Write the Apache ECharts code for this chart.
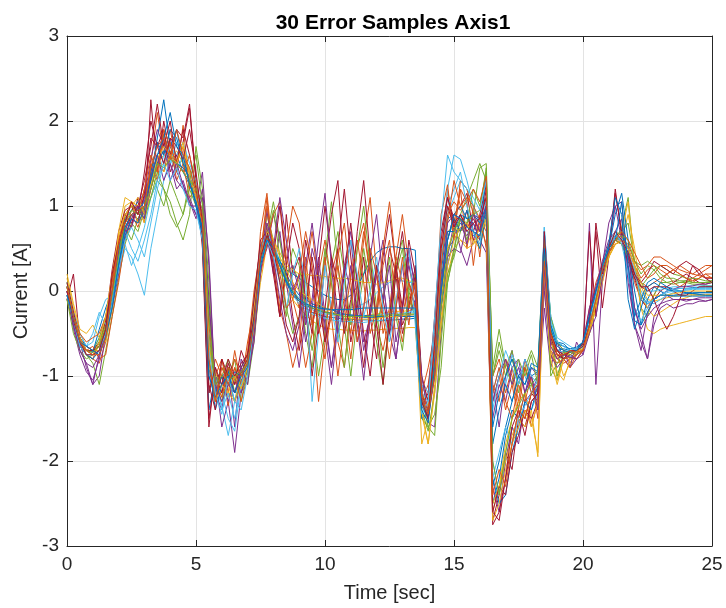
<!DOCTYPE html>
<html>
<head>
<meta charset="utf-8">
<script src="https://cdn.jsdelivr.net/npm/echarts@6/dist/echarts.min.js"></script>
<style>
  html, body { margin: 0; padding: 0; background: #fff; }
  #chart { width: 726px; height: 608px; }
</style>
</head>
<body>
<div id="chart"></div>
<script>
// Sample times [sec]
const timeSec = [0,0.25,0.5,0.75,1,1.25,1.5,1.75,2,2.25,2.5,2.75,3,3.25,3.5,3.75,4,4.25,4.5,4.75,5,5.25,5.5,5.75,6,6.25,6.5,6.75,7,7.25,7.5,7.75,8,8.25,8.5,8.75,9,9.25,9.5,9.75,10,10.25,10.5,10.75,11,11.25,11.5,11.75,12,12.25,12.5,12.75,13,13.25,13.5,13.75,14,14.25,14.5,14.75,15,15.25,15.5,15.75,16,16.25,16.5,16.75,17,17.25,17.5,17.75,18,18.25,18.5,18.75,19,19.25,19.5,19.75,20,20.25,20.5,20.75,21,21.25,21.5,21.75,22,22.25,22.5,22.75,23,23.25,23.5,23.75,24,24.25,24.5,24.75,25];

// Current error samples [A], one array per run
const s01 = [0.05,-0.3,-0.6,-0.7,-0.72,-0.6,-0.4, -0.05,0.4,0.75,0.9,0.85,1.0, 1.35,1.6,1.7,1.55,1.6,1.4,1.25,1.1,0.75, -0.6,-1.1,-1.0,-0.95,-1.05,-0.9,-0.75, -0.3,0.3,0.6,0.5,0.3,0.12,-0.02, -0.12,-0.2,-0.25,-0.28,-0.3,-0.31,-0.32,-0.33,-0.33,-0.34,-0.34,-0.34,-0.35,-0.35,-0.34,-0.34,-0.33,-0.33,-0.32, -1.25,-1.35,-0.8,-0.2,0.3, 0.65,0.8,0.7,0.65,0.75,0.95, -2.3,-2.0,-1.6,-1.3,-1.0,-0.9,-1.1,-1.0, 0.35,-0.5,-0.7,-0.75,-0.78,-0.72,-0.65, -0.4,-0.1,0.2,0.45,0.6,0.62,0.45,0.2,-0.05,-0.15,-0.1,-0.05, 0.0,0.02,0.03,0.03,0.04,0.04,0.05,0.05];
const s02 = [-0.1,-0.4,-0.65,-0.75,-0.8,-0.85,-0.6, -0.2,0.3,0.7,0.95,1.0,0.8, 1.5,2.1,1.6,1.9,1.5,1.7,1.2,1.3,0.6, -0.9,-1.3,-0.8,-1.2,-0.7,-1.1,-0.6, -0.2,0.4,1.1,0.3,-0.3,0.2,-0.1, -0.4,-0.9,-0.5,0.2,0.6,0.1,-0.6,-0.9,-0.2,0.5,0.8,0.2,-0.4,-0.7,-0.3,0.4,0.9,0.3,-0.1, -1.3,-1.1,-0.5,0.4,1.2, 0.7,1.2,0.5,1.0,0.4,1.1, -1.0,-0.8,-1.2,-0.9,-1.3,-0.8,-1.1,-1.2, 0.2,-0.6,-0.8,-0.7,-0.85,-0.7,-0.6, -0.3,0.1,0.3,0.5,0.7,0.65,0.4,0.1,-0.1,-0.2,-0.05,0.1, 0.2,0.25,0.2,0.15,0.1,0.15,0.2,0.15];
const s03 = [0.15,-0.2,-0.5,-0.65,-0.7,-0.7,-0.55, -0.2,0.3,0.85,1.05,1.0,0.9, 1.2,1.45,1.5,1.65,1.45,1.55,1.3,1.05,0.7, -0.8,-1.15,-1.0,-1.25,-1.05,-0.95,-0.85, -0.5,0.1,0.55,0.45,0.25,0.05,-0.1, -0.2,-0.28,-0.35,-0.4,-0.43,-0.45,-0.45,-0.46,-0.46,-0.47,-0.47,-0.46,-0.46,-0.45,-0.45,-0.44,-0.44,-0.43,-0.43, -1.45,-1.8,-1.1,-0.3,0.2, 0.5,0.6,0.55,0.7,0.6,0.8, -2.5,-2.3,-1.8,-1.5,-1.3,-1.5,-1.2,-1.05, 0.45,-0.45,-0.75,-1.0,-0.85,-0.7,-0.68, -0.45,-0.15,0.15,0.4,0.55,0.58,0.5,0.3,0.05,-0.1,-0.12,-0.1, -0.08,-0.06,-0.05,-0.05,-0.04,-0.04,-0.04,-0.04];
const s04 = [0.0,-0.35,-0.6,-0.9,-1.1,-1.0,-0.5, -0.1,0.35,0.6,0.85,0.8,1.1, 1.4,1.75,1.5,1.8,1.4,1.25,1.0,1.0,1.4, 0.3,-1.2,-1.4,-0.9,-1.6,-0.8,-1.0, -0.3,0.35,0.65,0.2,0.7,0.1,-0.4, -0.9,-0.3,0.5,0.2,-0.5,-1.1,-0.4,0.3,0.7,0.1,-0.6,-0.3,0.2,0.6,-0.1,-0.8,-0.2,0.4,0.1, -1.15,-1.55,-1.6,-0.5,0.4, 0.8,0.5,0.3,0.6,0.8,0.9, -1.1,-1.6,-1.0,-0.7,-1.1,-0.8,-1.0,-1.3, -0.2,-0.9,-0.6,-0.8,-0.9,-0.6,-0.75, 0.8,-1.1,0.1,0.5,1.0,1.05,0.2,-0.4,-0.6,-0.8,-0.3,-0.15, -0.05,-0.1,-0.1,-0.12,-0.1,-0.1,-0.12,-0.1];
const s05 = [-0.05,-0.4,-0.6,-0.75,-0.85,-1.1,-0.7, -0.3,0.15,0.55,0.8,0.7,0.95, 1.1,1.3,1.2,1.05,0.8,0.6,0.9,1.7,1.2, 0.1,-1.3,-1.0,-0.8,-1.2,-0.95,-1.1, -0.6,0.2,0.9,0.6,0.1,-0.3,0.3, 0.1,-0.5,-0.9,-0.2,0.4,1.05,0.3,-0.4,-1.0,-0.3,0.2,0.5,-0.2,-0.9,-0.4,0.3,0.6,0.0,-0.3, -1.5,-1.6,-1.45,-0.9,0.1, 0.45,0.9,1.1,1.3,1.5,1.3, -0.9,-0.45,-0.9,-0.7,-1.2,-0.9,-1.1,-1.4, 0.5,-0.9,-1.05,-0.7,-0.8,-0.75,-0.7, -0.5,-0.2,0.3,0.55,0.6,0.75,1.1,0.3,-0.2,-0.3,-0.05,0.1, 0.1,0.12,0.1,0.1,0.08,0.08,0.06,0.06];
const s06 = [0.1,-0.25,-0.55,-0.7,-0.7,-0.55,-0.35, -0.1,0.2,0.5,0.4,0.2,-0.05, 0.5,0.9,1.3,1.55,1.4,1.6,1.45,1.2,0.9, -0.5,-1.0,-1.35,-1.7,-1.3,-0.9,-0.8, -0.2,0.35,0.65,0.55,0.35,0.15,0.0, -0.08,-0.14,-0.18,-0.2,-0.22,-0.22,-0.22,-0.21,-0.2,-0.18,-0.15,-0.1,-0.02,0.05,0.1,0.12,0.12,0.1,0.1, -1.05,-1.2,-0.6,0.3,1.2, 1.6,1.55,1.3,1.0,0.8,1.35, -2.0,-2.4,-2.0,-1.6,-1.7,-1.3,-1.4,-1.2, 0.7,-0.3,-0.6,-0.65,-0.7,-0.7,-0.62, -0.35,-0.05,0.25,0.5,0.62,0.6,0.4,0.2,0.0,-0.12,-0.15,-0.1, -0.05,-0.02,0.0,0.02,0.03,0.04,0.04,0.04];
const s07 = [-0.1,0.2,-0.6,-0.7,-0.75,-0.7,-0.4, 0.2,0.6,0.85,0.75,1.1,0.9, 2.25,1.4,2.0,1.6,1.9,1.8,2.2,1.3,0.5, -1.6,-0.9,-1.2,-0.9,-1.1,-0.7,-0.9, -0.4,0.5,0.7,0.3,-0.3,0.9,0.2, 0.4,-0.2,-1.0,-0.4,0.3,0.9,1.3,0.2,-0.6,-0.2,0.4,-0.3,-0.8,-0.1,0.5,0.2,-0.5,-0.2,0.3, -1.2,-1.4,-0.9,-0.1,0.6, 0.9,1.0,1.15,0.7,0.9,1.25, -2.7,-2.4,-1.9,-2.1,-1.5,-1.6,-1.3,-1.2, 0.6,-0.6,-0.75,-0.8,-0.7,-0.75,-0.6, -0.3,0.7,-0.2,0.4,1.2,0.65,0.4,0.15,-0.1,-0.2,-0.1,0.0, 0.05,0.1,0.15,0.2,0.15,0.1,0.08,0.1];
const s08 = [0.0,-0.3,-0.55,-0.65,-0.7,-0.65,-0.4, -0.1,0.45,0.85,0.95,1.05,1.15, 1.3,1.8,2.25,1.7,1.9,1.5,1.4,1.0,0.6, -1.4,-1.0,-1.1,-0.95,-1.2,-1.0,-0.8, -0.1,0.55,0.65,0.5,0.35,0.25,0.2, 0.15,0.1,0.05,0.0,-0.05,-0.08,-0.1,-0.1,-0.05,0.05,0.2,0.35,0.45,0.5,0.52,0.52,0.5,0.5,0.48, -1.3,-1.4,-0.7,0.2,0.85, 0.9,1.0,0.85,0.8,0.6,1.4, -2.5,-2.2,-1.7,-1.4,-1.5,-1.2,-1.0,-0.95, 0.3,-0.4,-0.6,-0.62,-0.7,-0.68,-0.6, -0.35,0.0,0.25,0.5,0.65,0.7,0.5,0.0,-0.4,-0.1,0.05,0.0, -0.05,-0.05,-0.04,-0.03,-0.03,-0.02,-0.02,-0.02];
const s09 = [0.05,-0.25,-0.55,-0.75,-0.8,-0.6,-0.35, 0.0,0.5,0.8,1.05,0.9,1.2, 1.3,1.6,1.4,1.75,1.3,1.5,1.1,1.2,0.8, -0.3,-1.0,-0.8,-1.1,-0.9,-1.2,-0.9, -0.4,0.7,1.15,0.4,-0.2,-0.5,-0.9, -0.6,0.2,0.7,0.1,-0.6,-0.3,0.3,-0.2,-0.8,-0.1,0.6,1.1,0.2,-0.5,-0.2,0.4,0.1,-0.4,0.2, -1.1,-1.3,-0.5,0.3,1.0, 0.8,1.2,1.05,0.3,0.9,0.5, -1.3,-1.0,-1.4,-1.1,-1.5,-1.2,-1.6,-1.3, 0.1,-0.7,-0.8,-0.85,-0.8,-0.75,-0.7, -0.45,-0.1,0.25,0.5,0.6,0.55,0.45,0.25,0.1,0.05,0.1,0.15, 0.2,0.25,0.3,0.25,0.2,0.25,0.3,0.3];
const s10 = [0.0,-0.3,-0.6,-0.7,-0.75,-0.65,-0.4, 0.0,0.55,1.0,1.05,1.0,0.8, 1.2,1.5,1.6,1.55,1.65,1.5,1.3,1.15,0.8, -0.7,-0.95,-1.2,-1.1,-1.3,-1.1,-0.9, -0.35,0.45,0.9,0.55,0.3,0.1,-0.05, -0.12,-0.17,-0.2,-0.22,-0.24,-0.26,-0.28,-0.3,-0.3,-0.3,-0.29,-0.28,-0.27,-0.26,-0.25,-0.24,-0.24,-0.23,-0.22, -1.8,-1.5,-0.6,0.1,0.7, 0.75,0.7,0.8,0.6,0.5,0.9, -2.6,-2.3,-1.9,-1.5,-1.3,-1.2,-1.5,-1.9, 0.4,-0.5,-1.05,-0.8,-0.72,-0.7,-0.65, -0.4,-0.1,0.15,0.4,0.55,0.6,0.9,0.5,-0.05,-0.2,-0.3,-0.25, -0.2,-0.15,-0.1,-0.08,-0.05,-0.05,-0.05,-0.05];
const s11 = [0.05,-0.4,-0.7,-0.85,-1.1,-0.75,-0.5, -0.2,0.2,0.7,0.9,0.95,1.1, 1.55,1.9,1.7,1.5,1.3,1.2,1.1,0.9,1.0, -0.2,-1.0,-1.6,-1.3,-1.9,-1.2,-1.0, -0.6,0.3,0.5,0.9,0.6,0.2,0.3, 0.0,-0.6,-0.2,0.4,-0.3,-0.9,-0.4,0.2,0.6,-0.1,-0.7,-0.3,0.3,0.1,-0.5,-0.8,-0.2,0.3,0.0, -1.3,-1.5,-1.0,-0.2,0.5, 0.6,0.75,0.65,0.8,0.6,0.45, -2.3,-2.6,-2.0,-1.6,-1.8,-1.3,-1.2,-1.0, 0.0,-0.8,-0.6,-0.7,-0.9,-0.8,-0.7, -0.3,0.0,0.3,0.8,1.0,0.6,0.3,-0.2,-0.5,-0.8,-0.4,-0.2, -0.15,-0.2,-0.18,-0.15,-0.15,-0.12,-0.12,-0.1];
const s12 = [0.1,-0.3,-0.6,-0.7,-0.7,-0.55,-0.3, 0.1,0.5,0.75,0.6,0.85,1.0, 1.4,1.2,1.0,1.3,1.1,0.9,1.2,1.0,1.0, -0.5,-1.1,-0.9,-1.0,-0.8,-1.3,-0.9, -0.5,0.3,0.6,0.95,0.4,-0.2,-0.5, -0.3,0.2,-0.4,-1.0,-0.5,0.3,0.7,0.2,-0.4,-0.1,0.5,0.0,-0.6,-1.1,-0.4,0.2,0.5,-0.1,-0.3, -1.4,-1.65,-1.2,-0.4,0.1, 0.5,0.85,0.6,0.9,1.45,1.5, -1.0,-0.7,-1.0,-0.8,-1.1,-0.9,-0.7,-0.9, 0.65,-0.4,-1.0,-0.75,-0.7,-0.75,-0.68, -0.4,-0.1,0.2,0.5,0.65,0.7,0.8,0.35,0.2,0.3,0.25,0.15, 0.1,0.08,0.1,0.12,0.1,0.1,0.1,0.12];
const s13 = [0.0,-0.25,-0.5,-0.65,-0.6,-0.3,-0.1, -0.05,0.4,0.55,0.3,0.5,0.75, 1.1,1.3,1.6,1.5,1.75,1.55,1.4,1.2,0.9, -0.9,-1.1,-1.2,-1.5,-1.65,-1.1,-0.9, -0.3,0.3,0.7,0.55,0.35,0.15,0.0, -0.1,-0.18,-0.22,-0.25,-0.27,-0.28,-0.29,-0.3,-0.3,-0.3,-0.3,-0.29,-0.28,-0.27,-0.27,-0.26,-0.26,-0.25,-0.25, -1.1,-1.3,-0.8,0.35,0.9, 1.1,1.3,1.2,1.0,0.8,1.0, -1.2,-0.9,-1.1,-0.75,-0.9,-1.0,-1.2,-1.1, 0.75,-0.4,-0.7,-0.72,-0.7,-0.7,-0.66, -0.4,-0.1,0.2,0.45,0.6,0.62,0.5,0.3,0.1,0.0,0.0,0.02, 0.03,0.05,0.05,0.06,0.06,0.06,0.06,0.06];
const s14 = [-0.1,-0.3,-0.6,-0.65,-0.7,-0.6,-0.35, 0.25,0.7,0.95,1.0,0.8,1.15, 1.8,1.7,1.9,1.4,1.6,1.75,2.15,1.3,0.6, -1.5,-1.0,-1.2,-0.85,-1.1,-0.9,-0.75, -0.2,0.5,0.75,0.2,-0.3,0.3,0.8, 0.5,-0.1,-0.5,0.3,1.0,0.4,-0.3,0.2,0.8,0.1,-0.5,-1.0,-0.3,0.4,0.9,0.3,-0.4,-0.2,0.2, -1.0,-1.3,-0.4,0.6,1.1, 0.85,0.7,0.95,0.6,0.65,1.0, -2.75,-2.6,-2.2,-1.8,-1.4,-1.5,-1.2,-1.3, 0.55,-0.55,-0.75,-0.8,-0.75,-0.7,-0.6, -0.2,0.0,0.3,0.5,0.6,0.55,0.35,0.15,0.05,0.0,0.05,0.05, 0.05,0.0,-0.05,-0.05,0.0,0.05,0.05,0.05];
const s15 = [0.05,-0.3,-0.6,-0.7,-0.72,-0.45,-0.2, 0.0,0.45,0.9,1.0,0.95,0.85, 1.4,1.75,1.6,1.9,1.8,1.5,1.3,1.0,0.7, -0.8,-1.4,-1.1,-1.0,-1.3,-1.05,-0.95, -0.4,0.25,0.6,0.5,0.35,0.2,0.05, -0.05,-0.1,-0.15,-0.18,-0.2,-0.22,-0.25,-0.27,-0.29,-0.3,-0.31,-0.31,-0.31,-0.3,-0.3,-0.3,-0.3,-0.3,-0.3, -1.5,-1.45,-0.9,-0.1,0.6, 0.85,0.7,0.95,0.7,0.5,0.9, -2.2,-2.5,-2.4,-1.9,-1.6,-1.3,-1.4,-1.1, 0.25,-0.6,-0.7,-0.68,-0.7,-0.7,-0.62, -0.4,-0.1,0.2,0.5,0.9,1.15,0.6,-0.3,-0.1,0.1,0.15,0.1, 0.05,0.02,0.0,-0.02,-0.03,-0.04,-0.05,-0.05];
const s16 = [-0.05,-0.3,-0.55,-0.7,-0.65,-0.8,-0.75, -0.3,0.1,0.6,0.9,0.75,1.0, 1.5,1.3,1.85,1.6,1.4,1.95,1.2,1.3,0.8, -1.2,-0.8,-1.0,-1.35,-0.9,-1.1,-0.7, 0.0,0.5,0.55,0.9,1.05,0.4,0.1, -0.2,0.4,-0.3,-1.3,-0.6,0.2,0.5,-0.1,-0.5,0.1,0.7,0.2,-0.3,0.3,0.6,-0.2,-0.6,-0.1,0.1, -1.2,-0.9,-0.5,0.9,1.25, 0.6,1.3,1.2,0.9,0.8,0.55, -1.1,-1.3,-0.8,-1.0,-1.4,-0.9,-1.2,-1.1, 0.15,-0.75,-0.85,-0.8,-0.9,-0.75,-0.6, -0.3,-0.05,0.3,0.55,0.6,0.6,0.5,0.3,0.15,0.25,0.3,0.25, 0.2,0.1,0.05,0.1,0.15,0.2,0.25,0.3];
const s17 = [0.2,-0.15,-0.45,-0.5,-0.4,-0.55,-0.6, -0.2,0.7,1.1,1.05,0.8,0.95, 1.3,1.5,1.4,1.6,1.55,1.7,1.4,1.2,0.8, -0.9,-1.05,-1.25,-1.2,-1.3,-1.0,-0.8, -0.3,0.4,0.8,0.6,0.45,0.3,0.25, 0.2,0.2,0.18,0.18,0.17,0.16,0.15,0.15,0.14,0.12,0.1,0.1,0.08,0.1,0.12,0.15,0.15,0.12,0.1, -1.2,-1.35,-0.7,-0.1,0.5, 0.7,0.6,0.5,0.55,0.75,0.95, -2.5,-2.3,-2.0,-1.7,-1.5,-1.6,-1.4,-1.95, 0.35,-0.7,-0.95,-1.05,-0.8,-0.72,-0.7, -0.5,-0.2,0.1,0.4,0.6,0.7,1.05,0.3,-0.2,-0.45,-0.5,-0.45, -0.42,-0.4,-0.38,-0.36,-0.34,-0.32,-0.3,-0.3];
const s18 = [0.0,-0.45,-0.75,-0.95,-1.05,-0.8,-0.45, -0.1,0.3,0.65,0.85,1.0,0.9, 1.2,1.5,1.8,1.3,1.5,1.25,1.05,0.85,1.2, 0.4,-1.2,-1.0,-1.3,-1.0,-1.2,-0.85, -0.2,0.3,0.95,0.4,-0.1,-0.5,-0.7, -0.4,0.3,0.8,0.2,-0.4,-0.9,-0.3,0.3,0.0,-0.6,-0.2,0.4,0.9,0.1,-0.5,-0.2,0.3,-0.3,-0.1, -1.0,-1.45,-1.0,0.2,0.4, 0.5,0.45,0.8,0.9,0.85,0.95, -1.5,-1.1,-1.3,-0.9,-0.8,-1.2,-0.9,-1.0, 0.1,-0.75,-0.9,-0.8,-0.75,-0.8,-0.7, -0.2,0.05,0.35,0.6,0.7,0.85,0.1,-0.4,-0.7,-0.25,-0.1,-0.05, 0.0,0.02,0.05,0.05,0.06,0.08,0.08,0.1];
const s19 = [-0.1,-0.5,-0.7,-0.8,-0.75,-0.6,-0.4, 0.0,0.4,0.9,1.0,0.95,0.85, 1.1,1.4,1.2,0.9,0.75,0.9,1.3,1.6,1.0, -0.6,-1.1,-1.3,-0.9,-1.05,-1.15,-0.9, -0.4,0.3,0.65,1.05,0.6,0.1,0.5, 0.3,-0.2,-0.7,-0.2,0.5,0.1,-0.4,-0.9,-0.2,0.5,1.0,0.3,-0.4,-0.1,0.4,-0.3,-0.7,0.0,0.2, -1.25,-1.6,-1.7,-0.6,0.2, 0.4,0.7,0.8,1.2,1.0,1.4, -1.0,-0.6,-0.9,-1.1,-0.8,-1.0,-0.75,-1.1, 0.55,-1.0,-0.85,-0.72,-0.75,-0.7,-0.65, -0.4,-0.1,0.25,0.5,0.6,0.55,0.4,0.2,0.05,0.15,0.25,0.3, 0.25,0.2,0.18,0.15,0.15,0.14,0.12,0.12];
const s20 = [0.0,-0.35,-0.6,-0.65,-0.5,-0.25,-0.4, -0.1,0.35,0.7,0.5,0.35,0.6, 0.9,1.3,1.5,1.7,1.6,1.75,1.5,1.3,0.7, -1.2,-1.0,-1.4,-1.2,-1.5,-1.1,-0.85, -0.3,0.5,0.7,0.55,0.3,0.1,-0.05, -0.15,-0.22,-0.27,-0.3,-0.32,-0.34,-0.35,-0.36,-0.36,-0.37,-0.37,-0.36,-0.35,-0.34,-0.33,-0.3,-0.28,-0.25,-0.22, -1.2,-1.3,-0.5,0.4,1.0, 1.2,1.4,1.0,0.7,0.55,1.1, -2.2,-1.9,-1.6,-1.8,-1.5,-1.35,-1.2,-1.05, 0.6,-0.3,-0.55,-0.6,-0.65,-0.7,-0.65, -0.35,-0.05,0.25,0.55,0.7,0.55,0.2,-0.2,-0.35,-0.2,-0.1,-0.05, 0.0,0.02,0.03,0.03,0.03,0.03,0.03,0.03];
const s21 = [0.1,-0.25,-0.55,-0.7,-0.7,-0.65,-0.45, 0.15,0.55,0.9,0.8,1.0,1.3, 1.7,2.2,1.7,2.0,1.5,1.9,1.6,1.2,0.7, -1.1,-1.4,-0.8,-1.0,-1.2,-0.95,-0.8, -0.1,0.6,0.7,0.4,1.0,0.3,-0.3, -0.7,-0.2,0.4,-0.1,-0.6,-0.2,0.5,1.2,0.4,-0.3,-0.9,-0.2,0.3,-0.1,-0.5,0.2,0.7,0.1,-0.2, -1.35,-1.2,-0.3,0.7,1.1, 0.8,0.9,0.75,0.85,0.7,1.2, -2.6,-2.3,-2.4,-1.9,-1.7,-1.4,-1.5,-1.3, 0.65,-0.5,-0.7,-0.75,-0.72,-0.7,-0.62, 0.7,-0.3,0.2,0.5,1.15,0.7,0.4,0.2,0.1,0.2,0.35,0.3, 0.25,0.2,0.3,0.35,0.3,0.2,0.15,0.15];
const s22 = [-0.05,-0.35,-0.65,-0.75,-0.8,-0.7,-0.5, -0.15,0.3,0.65,0.85,0.8,0.95, 1.3,1.5,1.65,1.6,1.5,1.45,1.35,1.1,0.75, -1.0,-1.2,-1.0,-1.1,-0.95,-1.0,-0.85, -0.35,0.35,0.65,0.5,0.3,0.1,-0.05, -0.12,-0.17,-0.2,-0.23,-0.25,-0.26,-0.27,-0.28,-0.28,-0.29,-0.29,-0.29,-0.3,-0.3,-0.3,-0.29,-0.29,-0.28,-0.28, -1.35,-1.5,-0.8,0.1,0.7, 0.7,0.9,0.85,0.9,0.8,1.0, -1.8,-1.4,-1.1,-1.3,-1.0,-1.1,-0.9,-0.95, 0.7,-0.4,-0.62,-0.65,-0.68,-0.66,-0.6, -0.3,0.0,0.3,0.55,1.1,0.9,-0.1,-0.45,-0.2,0.05,0.1,0.05, 0.02,0.0,0.0,-0.02,-0.02,-0.02,-0.02,-0.02];
const s23 = [0.0,-0.3,-0.5,-0.6,-0.55,-0.5,-0.3, 0.1,0.6,0.9,1.0,0.9,1.2, 1.6,1.4,1.9,1.7,1.5,1.4,1.6,1.25,0.9, -0.4,-1.05,-1.25,-0.9,-1.0,-1.3,-1.0, -0.5,0.2,0.55,0.6,0.2,0.5,1.0, 0.8,0.2,-0.4,-0.1,0.4,-0.3,-1.0,-0.4,0.2,0.6,0.1,-0.5,-0.2,0.5,1.05,0.3,-0.3,0.1,-0.2, -1.2,-1.4,-0.7,0.5,0.8, 1.3,1.0,1.1,1.0,0.85,0.7, -1.2,-0.9,-1.3,-1.5,-1.1,-1.3,-1.0,-1.5, 0.3,-0.6,-0.7,-0.8,-0.78,-0.8,-0.7, -0.45,-0.15,0.2,0.45,0.55,0.6,0.55,0.35,0.25,0.3,0.4,0.4, 0.35,0.3,0.25,0.22,0.2,0.18,0.16,0.16];
const s24 = [0.05,-0.3,-0.55,-0.7,-0.75,-0.6,-0.3, 0.2,0.65,0.9,1.0,1.1,0.9, 1.25,1.55,1.7,1.6,1.5,1.75,1.35,1.1,0.8, -0.6,-1.3,-1.1,-1.2,-1.0,-1.15,-0.9, -0.2,0.4,0.7,0.6,0.4,0.25,0.1, 0.0,-0.05,-0.1,-0.15,-0.2,-0.24,-0.28,-0.3,-0.32,-0.33,-0.33,-0.33,-0.32,-0.31,-0.3,-0.3,-0.29,-0.28,-0.28, -1.4,-1.8,-1.2,-0.4,0.3, 0.6,0.75,0.8,0.55,0.65,0.85, -2.7,-2.5,-2.1,-1.8,-1.6,-1.4,-1.6,-1.3, 0.2,-0.8,-1.1,-0.8,-0.72,-0.7,-0.68, -0.45,-0.15,0.15,0.4,0.55,0.6,0.5,0.3,0.1,-0.05,-0.05,-0.05, -0.05,-0.03,-0.02,0.0,0.0,0.0,0.0,0.0];
const s25 = [0.0,-0.4,-0.7,-0.85,-0.9,-0.75,-0.45, 0.0,0.45,0.7,0.75,1.0,0.85, 1.35,1.6,1.3,1.5,1.2,1.3,1.05,0.9,1.1, -0.1,-1.1,-1.3,-1.1,-1.2,-0.9,-1.1, -0.5,0.2,0.8,0.5,1.1,0.6,0.0, 0.2,-0.4,-0.1,0.6,1.15,0.3,-0.5,-0.2,0.3,-0.4,-1.05,-0.3,0.2,-0.1,0.3,-0.6,-0.2,0.5,0.0, -1.25,-1.5,-0.9,0.0,0.8, 0.9,0.85,0.55,0.9,0.7,1.0, -1.3,-1.0,-0.8,-1.1,-0.9,-1.2,-1.0,-1.4, 0.25,-0.65,-0.8,-0.75,-0.78,-0.8,-0.75, -0.5,-0.3,0.15,0.5,0.65,0.6,0.45,-0.2,-0.45,-0.3,-0.2,-0.15, -0.12,-0.1,-0.1,-0.1,-0.1,-0.08,-0.08,-0.08];
const s26 = [0.05,-0.3,-0.6,-0.7,-0.72,-0.65,-0.45, -0.05,0.4,0.8,0.95,0.9,1.0, 1.2,1.5,1.45,1.55,1.5,1.4,1.3,1.2,1.05, -0.3,-1.1,-1.0,-1.05,-1.0,-0.95,-0.85, -0.3,0.3,0.65,0.5,0.3,0.15,0.0, -0.1,-0.15,-0.2,-0.22,-0.25,-0.27,-0.28,-0.3,-0.3,-0.3,-0.3,-0.3,-0.29,-0.29,-0.28,-0.28,-0.27,-0.27,-0.27, -1.3,-1.45,-0.9,-0.2,0.45, 0.7,0.85,0.8,0.9,0.95,1.45, -2.0,-2.4,-1.9,-1.5,-1.35,-1.2,-1.1,-1.0, 0.6,-0.3,-0.6,-0.7,-0.72,-0.7,-0.65, -0.4,-0.1,0.2,0.45,0.6,0.65,0.6,0.35,0.3,0.35,0.3,0.2, 0.15,0.15,0.12,0.12,0.1,0.1,0.1,0.1];
const s27 = [-0.05,-0.35,-0.65,-0.75,-0.75,-0.7,-0.5, -0.15,0.25,0.6,0.75,0.6,0.4, 0.8,1.2,1.5,1.3,1.45,1.2,1.0,0.95,0.6, -0.7,-1.2,-1.45,-1.0,-1.3,-1.4,-1.0, -0.4,0.3,0.6,0.4,0.1,-0.2,0.2, 0.5,0.1,-1.3,-0.5,0.3,-0.2,-0.6,0.1,0.6,0.2,-0.3,0.0,0.4,-0.2,-0.6,-0.1,0.3,0.5,-0.4, -1.45,-1.3,-0.3,0.8,1.6, 1.4,1.3,1.2,1.1,0.95,1.3, -1.4,-1.0,-0.7,-0.9,-1.1,-0.8,-1.0,-1.1, 0.75,-0.35,-0.6,-0.65,-0.7,-0.68,-0.65, -0.4,-0.05,0.2,0.5,0.65,0.6,0.45,0.25,-0.1,-0.15,-0.1,-0.05, -0.02,0.0,0.0,0.01,0.02,0.02,0.02,0.02];
const s28 = [0.0,-0.35,-0.6,-0.75,-0.75,-0.7,-0.45, 0.2,0.55,0.8,1.05,0.9,1.4, 2.0,1.7,1.5,1.8,1.7,1.55,1.9,1.4,0.8, -1.2,-0.9,-1.1,-0.8,-1.0,-0.85,-0.75, -0.3,0.4,0.65,0.5,0.1,-0.4,-0.6, -0.3,0.6,0.2,-0.5,-0.2,0.4,0.1,-0.5,-0.1,0.7,1.3,0.4,-0.4,-1.1,-0.3,0.3,-0.2,0.6,0.2, -1.3,-1.5,-0.6,0.5,1.0, 0.75,0.9,0.7,0.8,0.85,1.1, -2.6,-2.7,-2.2,-1.6,-1.4,-1.7,-1.3,-1.2, 0.7,-0.5,-0.7,-0.8,-0.7,-0.7,-0.65, -0.4,0.8,0.2,0.5,0.7,0.6,0.45,0.2,0.05,0.05,-0.1,-0.3, -0.45,-0.3,-0.1,0.1,0.3,0.25,0.15,0.1];
const s29 = [-0.05,-0.3,-0.6,-0.65,-0.7,-0.75,-0.55, -0.2,0.3,0.75,0.9,0.95,1.05, 1.3,1.6,1.8,2.1,1.7,1.6,1.25,1.05,0.7, -1.0,-1.25,-1.1,-1.0,-1.2,-1.0,-0.9, -0.35,0.3,0.6,0.5,0.3,0.12,-0.02, -0.1,-0.15,-0.18,-0.2,-0.21,-0.22,-0.22,-0.22,-0.22,-0.21,-0.2,-0.2,-0.2,-0.2,-0.2,-0.2,-0.2,-0.2,-0.2, -1.4,-1.55,-0.9,0.0,0.6, 0.9,0.85,0.75,0.7,0.65,0.95, -1.6,-1.2,-1.0,-0.8,-1.0,-1.1,-0.85,-0.9, 0.5,-0.45,-0.65,-0.7,-0.72,-0.7,-0.6, -0.3,0.0,0.25,0.5,0.6,1.05,0.3,-0.35,-0.4,-0.25,-0.1,-0.05, -0.05,-0.06,-0.06,-0.06,-0.06,-0.06,-0.06,-0.06];
const s30 = [0.05,-0.3,-0.6,-0.7,-0.75,-0.75,-0.55, 0.0,0.55,0.8,0.9,0.95,1.0, 1.45,1.7,1.8,1.55,1.9,1.6,1.45,1.15,0.8, -0.8,-1.3,-0.9,-1.1,-0.8,-1.0,-0.85, -0.4,0.45,1.0,0.5,0.2,-0.2,-0.1, 0.2,0.7,0.3,-0.4,-0.8,-0.2,0.4,0.8,0.1,-0.6,-0.2,0.5,0.2,-0.3,-0.8,-0.2,0.4,-0.2,0.1, -1.25,-1.45,-1.0,0.3,0.9, 1.05,0.95,1.05,1.2,1.05,1.35, -2.4,-2.1,-2.3,-1.8,-1.4,-1.5,-1.2,-1.1, 0.35,-0.5,-0.75,-0.75,-0.7,-0.72,-0.7, -0.4,-0.1,0.25,0.45,0.6,0.7,0.6,0.45,0.3,0.15,0.2,0.3, 0.3,0.25,0.2,0.15,0.12,0.15,0.2,0.2];

const samples = [s01,s02,s03,s04,s05,s06,s07,s08,s09,s10,s11,s12,s13,s14,s15,s16,s17,s18,s19,s20,s21,s22,s23,s24,s25,s26,s27,s28,s29,s30];

// Default line colour order, cycled over the runs
const lineColors = ['#0072BD','#D95319','#EDB120','#7E2F8E','#77AC30','#4DBEEE','#A2142F'];

const xTicks = [0, 25, 5];   // min, max, step
const yTicks = [-3, 3, 1];

const axisColor = '#262626';
const fontFamily = 'Liberation Sans, Arial, sans-serif';
const tickFont = { color: axisColor, fontSize: 19, fontFamily: fontFamily };
const nameFont = { color: axisColor, fontSize: 20, fontFamily: fontFamily };

const chart = echarts.init(document.getElementById('chart'), null, { renderer: 'canvas' });

const series = samples.map((vals, k) => ({
  type: 'line',
  name: 'Sample ' + (k + 1),
  xAxisIndex: 0,
  yAxisIndex: 0,
  data: vals.map((v, i) => [timeSec[i], v]),
  showSymbol: false,
  symbol: 'none',
  lineStyle: { width: 1, color: lineColors[k % lineColors.length] },
  itemStyle: { color: lineColors[k % lineColors.length] },
  silent: true,
  animation: false
}));

const boxAxisLine = { show: true, onZero: false, lineStyle: { color: axisColor, width: 1 } };
const inTicks = { show: true, inside: true, length: 6, lineStyle: { color: axisColor, width: 1 } };

chart.setOption({
  backgroundColor: '#ffffff',
  animation: false,
  title: {
    text: '30 Error Samples Axis1',
    left: 388,
    textAlign: 'center',
    top: 8,
    textStyle: { fontSize: 21, fontWeight: 'bold', color: '#000', fontFamily: fontFamily }
  },
  grid: { left: 67, right: 14, top: 36, bottom: 61, containLabel: false },
  xAxis: [
    {
      type: 'value', min: xTicks[0], max: xTicks[1], interval: xTicks[2],
      position: 'bottom',
      name: 'Time [sec]', nameLocation: 'middle', nameGap: 37,
      nameTextStyle: nameFont,
      axisLine: boxAxisLine, axisTick: inTicks,
      axisLabel: Object.assign({ margin: 9 }, tickFont),
      splitLine: { show: true, lineStyle: { color: '#e3e3e3', width: 1 } }
    },
    {
      type: 'value', min: xTicks[0], max: xTicks[1], interval: xTicks[2],
      position: 'top',
      axisLine: boxAxisLine, axisTick: inTicks,
      axisLabel: { show: false }, splitLine: { show: false }
    }
  ],
  yAxis: [
    {
      type: 'value', min: yTicks[0], max: yTicks[1], interval: yTicks[2],
      position: 'left',
      name: 'Current [A]', nameLocation: 'middle', nameGap: 24, nameRotate: 90,
      nameTextStyle: nameFont,
      axisLine: boxAxisLine, axisTick: inTicks,
      axisLabel: Object.assign({ margin: 8 }, tickFont),
      splitLine: { show: true, lineStyle: { color: '#e3e3e3', width: 1 } }
    },
    {
      type: 'value', min: yTicks[0], max: yTicks[1], interval: yTicks[2],
      position: 'right',
      axisLine: boxAxisLine, axisTick: inTicks,
      axisLabel: { show: false }, splitLine: { show: false }
    }
  ],
  series: series
});
</script>
</body>
</html>
